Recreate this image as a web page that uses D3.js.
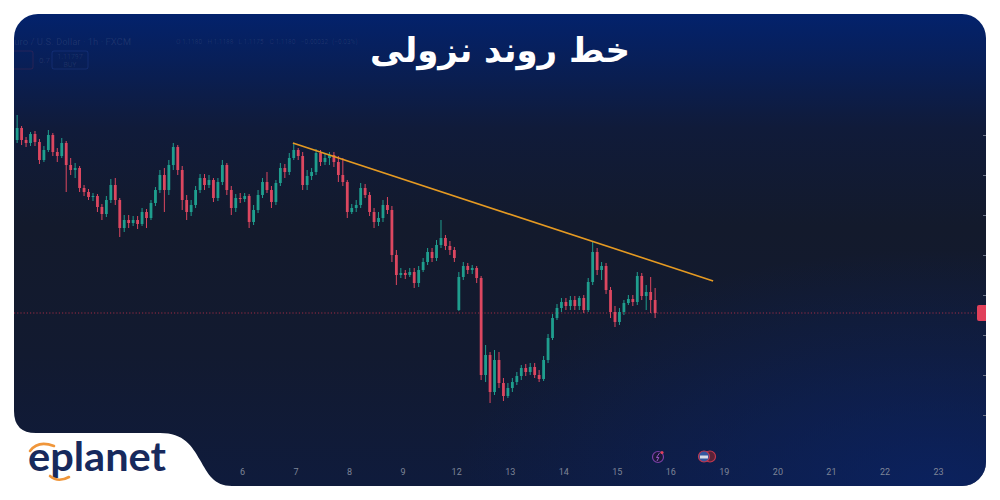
<!DOCTYPE html>
<html><head><meta charset="utf-8">
<script src="https://cdn.jsdelivr.net/npm/d3@7/dist/d3.min.js"></script>
<style>html,body{margin:0;padding:0;background:#fff;}svg{display:block;}</style>
</head><body>
<svg id="chart" width="1000" height="500"></svg>
<script>
// ---------- data ----------
const title = "خط روند نزولی";
const dayLabels = ["6","7","8","9","12","13","14","15","16","19","20","21","22","23"];
const headerItems = ["O 1.1180","H 1.1188","L 1.1175","C 1.1180","−0.00032","(−0.03%)"];
const firstBarDay = -4.2;      // time of first bar, in trading days relative to label "6"
const barsPerDay = 12;         // 2h bars
const open = [1.121875,1.122175,1.121875,1.1218,1.122025,1.121825,1.121375,1.121625,1.122,1.121575,1.121475,1.1218,1.12125,1.121125,1.121175,1.120675,1.120575,1.12045,1.120475,1.1202,1.120025,1.120375,1.12075,1.120375,1.119675,1.119875,1.1198,1.119875,1.119775,1.120075,1.119925,1.1203,1.120625,1.121,1.120625,1.12125,1.1217,1.121125,1.120375,1.120075,1.12025,1.120625,1.120925,1.12075,1.120875,1.120425,1.120825,1.12125,1.120625,1.120175,1.120425,1.1204,1.120475,1.119825,1.120125,1.1205,1.120825,1.120625,1.120325,1.1208,1.121175,1.121075,1.121425,1.121625,1.121475,1.12075,1.120975,1.121075,1.12155,1.121325,1.121425,1.1215,1.121325,1.121,1.120825,1.120075,1.120175,1.12025,1.120675,1.1205,1.120075,1.119825,1.119925,1.12025,1.120125,1.119,1.1185,1.11855,1.1185,1.118575,1.1183,1.118625,1.118825,1.119075,1.118925,1.11925,1.119425,1.119225,1.119125,1.117625,1.11845,1.118725,1.118625,1.118675,1.118425,1.116,1.1165,1.115575,1.116375,1.1158,1.115475,1.115675,1.115825,1.115975,1.116175,1.116075,1.1162,1.116,1.1159,1.116375,1.116925,1.117425,1.117675,1.117825,1.117725,1.117875,1.117725,1.117925,1.117625,1.118325,1.119075,1.118625,1.118725,1.118125,1.117575,1.117325,1.117575,1.1178,1.1179,1.117825,1.118475,1.117975,1.118075,1.117875];
const high = [1.1225,1.122225,1.12195,1.122075,1.1221,1.1219,1.121725,1.122125,1.12205,1.121675,1.121925,1.12185,1.121425,1.1213,1.121225,1.12075,1.12065,1.12055,1.120525,1.120275,1.120475,1.1209,1.120925,1.120425,1.12,1.12,1.119975,1.119975,1.120175,1.12015,1.120375,1.1207,1.121125,1.121175,1.121375,1.1218,1.12175,1.121225,1.1205,1.120375,1.120725,1.121025,1.121025,1.121,1.120925,1.120925,1.121375,1.1213,1.120725,1.120525,1.12055,1.12055,1.120525,1.12025,1.120625,1.120925,1.121075,1.120725,1.120875,1.1213,1.121275,1.12155,1.121775,1.121675,1.121575,1.121125,1.121175,1.12165,1.121625,1.12155,1.121575,1.121575,1.121475,1.121425,1.120875,1.120275,1.120375,1.1208,1.120775,1.120575,1.120175,1.120075,1.120375,1.12045,1.120225,1.119125,1.118675,1.118625,1.118675,1.118675,1.118725,1.118925,1.119175,1.119175,1.119375,1.119875,1.1195,1.11935,1.1192,1.118575,1.118825,1.1188,1.11875,1.118725,1.118475,1.11675,1.116575,1.116625,1.116575,1.115925,1.1158,1.115925,1.116075,1.11625,1.116275,1.1163,1.1163,1.116125,1.116475,1.117025,1.117525,1.117775,1.117925,1.117925,1.117975,1.117975,1.117975,1.118,1.118425,1.119325,1.119175,1.118825,1.1188,1.1182,1.117725,1.117675,1.117875,1.118,1.118,1.118575,1.11855,1.11825,1.11845,1.118175];
const low = [1.1218,1.12175,1.1217,1.121725,1.121725,1.121275,1.121325,1.121575,1.121475,1.121325,1.121425,1.120575,1.121,1.120925,1.120575,1.120475,1.120375,1.12035,1.120075,1.119875,1.11995,1.1203,1.12025,1.11945,1.119575,1.119675,1.119725,1.11965,1.119725,1.119675,1.119875,1.120225,1.12055,1.120075,1.1205,1.121125,1.121,1.120125,1.119875,1.119975,1.120175,1.12055,1.120625,1.120675,1.120325,1.12035,1.12075,1.1205,1.12,1.120075,1.1203,1.120325,1.119675,1.11975,1.12005,1.120425,1.12055,1.120175,1.12025,1.120725,1.120925,1.121,1.121375,1.121375,1.120625,1.120625,1.120875,1.121,1.121225,1.12125,1.12125,1.1212,1.120825,1.120725,1.119925,1.120025,1.120075,1.120175,1.120425,1.119975,1.119675,1.119725,1.119825,1.120025,1.118825,1.11825,1.118425,1.1184,1.11845,1.118175,1.1182,1.118575,1.11875,1.118825,1.11885,1.119175,1.119125,1.119,1.118825,1.1176,1.118375,1.118525,1.118525,1.1183,1.115875,1.115825,1.1153,1.1155,1.115675,1.11535,1.115425,1.115575,1.11575,1.115875,1.115975,1.116,1.115925,1.115825,1.11585,1.1163,1.116875,1.117375,1.117575,1.117625,1.117625,1.117625,1.117625,1.11755,1.117575,1.11825,1.1185,1.118375,1.118025,1.117425,1.1172,1.11725,1.1175,1.11775,1.117725,1.11775,1.117875,1.117625,1.11755,1.117425];
const close = [1.122175,1.121875,1.1218,1.122025,1.121825,1.121375,1.121625,1.122,1.121575,1.121475,1.1218,1.12125,1.121125,1.121175,1.120675,1.120575,1.12045,1.120475,1.1202,1.120025,1.120375,1.12075,1.120375,1.119675,1.119875,1.1198,1.119875,1.119775,1.120075,1.119925,1.1203,1.120625,1.121,1.120625,1.12125,1.1217,1.121125,1.120375,1.120075,1.12025,1.120625,1.120925,1.12075,1.120875,1.120425,1.120825,1.12125,1.120625,1.120175,1.120425,1.1204,1.120475,1.119825,1.120125,1.1205,1.120825,1.120625,1.120325,1.1208,1.121175,1.121075,1.121425,1.121625,1.121475,1.12075,1.120975,1.121075,1.12155,1.121325,1.121425,1.1215,1.121325,1.121,1.120825,1.120075,1.120175,1.12025,1.120675,1.1205,1.120075,1.119825,1.119925,1.12025,1.120125,1.119,1.1185,1.11855,1.1185,1.118575,1.1183,1.118625,1.118825,1.119075,1.118925,1.11925,1.119425,1.119225,1.119125,1.118925,1.11845,1.118725,1.118625,1.118675,1.118425,1.116,1.1165,1.115575,1.116375,1.1158,1.115475,1.115675,1.115825,1.115975,1.116175,1.116075,1.1162,1.116,1.1159,1.116375,1.116925,1.117425,1.117675,1.117825,1.117725,1.117875,1.117725,1.117925,1.117625,1.118325,1.119075,1.118625,1.118725,1.118125,1.117575,1.117325,1.117575,1.1178,1.1179,1.117825,1.118475,1.117975,1.118075,1.117875,1.11755];
const priceTicks = [1.115,1.116,1.117,1.118,1.119,1.120,1.121,1.122];
const lastPrice = 1.11755;
const trendDays = [0.95, 8.8];
const trendPrices = [1.1218, 1.11835];

// ---------- drawing ----------
const svg = d3.select("#chart");
const W = 1000, H = 500;
const card = {x0:14, y0:14, x1:986, y1:486, r:24};
const x = d3.scaleLinear().domain([0, dayLabels.length - 1]).range([242, 938]);
const y = d3.scaleLinear().domain([1.115, 1.122]).range([415, 135]);

const defs = svg.append("defs");
const lg = defs.append("linearGradient").attr("id","bg").attr("x1",0).attr("y1",0).attr("x2",0).attr("y2",1);
[[0,"#03226c"],[0.1,"#081f58"],[0.24,"#101b3a"],[0.45,"#131a2c"],[0.72,"#121a30"],[1,"#0f1b3c"]]
  .forEach(([o,c]) => lg.append("stop").attr("offset",o).attr("stop-color",c));
const rg = defs.append("radialGradient").attr("id","glow").attr("cx",0.95).attr("cy",1).attr("r",0.5);
rg.append("stop").attr("offset",0).attr("stop-color","#0a2366").attr("stop-opacity",0.8);
rg.append("stop").attr("offset",1).attr("stop-color","#0a2366").attr("stop-opacity",0);
defs.append("clipPath").attr("id","cardClip").append("rect")
  .attr("x",card.x0).attr("y",card.y0).attr("width",card.x1-card.x0).attr("height",card.y1-card.y0).attr("rx",card.r);

svg.append("rect").attr("width",W).attr("height",H).attr("fill","#fff");
svg.append("rect").attr("x",card.x0).attr("y",card.y0).attr("width",card.x1-card.x0).attr("height",card.y1-card.y0)
  .attr("rx",card.r).attr("fill","url(#bg)");
svg.append("rect").attr("x",card.x0).attr("y",card.y0).attr("width",card.x1-card.x0).attr("height",card.y1-card.y0)
  .attr("rx",card.r).attr("fill","url(#glow)");

const g = svg.append("g").attr("clip-path","url(#cardClip)");

// faint trading-view header
const hdr = g.append("g").attr("font-family","Roboto, sans-serif").attr("font-size",6.5).attr("fill","#ffffff").attr("fill-opacity",0.09);
hdr.append("text").attr("x",9).attr("y",45).attr("font-size",9.5).text("Euro / U.S. Dollar · 1h · FXCM");
const hx = d3.scalePoint().domain(headerItems).range([176, 332]);
hdr.selectAll("text.ohlc").data(headerItems).join("text").attr("class","ohlc")
  .attr("x",d=>hx(d)).attr("y",44).text(d=>d);
hdr.append("rect").attr("x",6).attr("y",51).attr("width",27).attr("height",18).attr("rx",2).attr("fill","none").attr("stroke","#e0405a").attr("stroke-opacity",0.15);
hdr.append("text").attr("x",39).attr("y",63).attr("font-size",8).text("0.7");
hdr.append("rect").attr("x",52).attr("y",51).attr("width",36).attr("height",18).attr("rx",2).attr("fill","none").attr("stroke","#3a66d8").attr("stroke-opacity",0.2);
hdr.append("text").attr("x",70).attr("y",59).attr("font-size",7).attr("text-anchor","middle").text("1.11797");
hdr.append("text").attr("x",70).attr("y",67).attr("font-size",7).attr("text-anchor","middle").text("BUY");

// last price dotted line
g.append("line").attr("x1",card.x0).attr("x2",978).attr("y1",y(lastPrice)).attr("y2",y(lastPrice))
  .attr("stroke","#d8344f").attr("stroke-opacity",0.7).attr("stroke-width",1).attr("stroke-dasharray","1.2,2");

// candles
const bars = close.map((c,i) => ({t: firstBarDay + i / barsPerDay, o: open[i], h: high[i], l: low[i], c}));
const up = "#1f9e8e", down = "#dc4760";
const cg = g.append("g");
cg.selectAll("line.wick").data(bars).join("line").attr("class","wick")
  .attr("x1",d=>x(d.t)).attr("x2",d=>x(d.t)).attr("y1",d=>y(d.h)).attr("y2",d=>y(d.l))
  .attr("stroke",d=>d.c>=d.o?up:down).attr("stroke-width",1);
cg.selectAll("rect.body").data(bars).join("rect").attr("class","body")
  .attr("x",d=>x(d.t)-1.4).attr("width",2.8)
  .attr("y",d=>y(Math.max(d.o,d.c))).attr("height",d=>Math.max(1,Math.abs(y(d.o)-y(d.c))))
  .attr("fill",d=>d.c>=d.o?up:down);

// trend line
g.append("line").attr("x1",x(trendDays[0])).attr("y1",y(trendPrices[0]))
  .attr("x2",x(trendDays[1])).attr("y2",y(trendPrices[1]))
  .attr("stroke","#e59a22").attr("stroke-width",1.6);

// right price axis (labels are outside the card)
const ay = g.append("g").attr("transform","translate(986,0)").call(d3.axisLeft(y).tickValues(priceTicks).tickSize(3).tickFormat(""));
ay.select(".domain").remove();
ay.selectAll("line").attr("stroke","#6e7688");
g.append("rect").attr("x",977).attr("y",y(lastPrice)-8).attr("width",12).attr("height",16).attr("rx",2).attr("fill","#e0405a");

// x axis
const ax = g.append("g").attr("transform","translate(0,466)")
  .call(d3.axisBottom(x).tickValues(d3.range(dayLabels.length)).tickSize(0).tickFormat(i=>dayLabels[i]));
ax.select(".domain").remove();
ax.selectAll("text").attr("fill","#7e8597").attr("font-size",9).attr("font-family","Roboto, sans-serif");

// event icons
const ic = g.append("g");
ic.append("circle").attr("cx",658).attr("cy",457).attr("r",5.5).attr("fill","#1a1838").attr("stroke","#7a3fa6").attr("stroke-width",1.2);
ic.append("path").attr("d","M659.5,453 L656.5,457.5 L658.8,457.5 L657,461").attr("fill","none").attr("stroke","#9a56c8").attr("stroke-width",1);
ic.append("circle").attr("cx",662).attr("cy",452.5).attr("r",1.6).attr("fill","#e0405a");
ic.append("circle").attr("cx",710).attr("cy",456.5).attr("r",5.5).attr("fill","#5a2238").attr("stroke","#c0384f").attr("stroke-width",1.2);
ic.append("circle").attr("cx",704).attr("cy",456.5).attr("r",5.5).attr("fill","#3357a0").attr("stroke","#c0384f").attr("stroke-width",1.2);
ic.append("rect").attr("x",700).attr("y",455.5).attr("width",8).attr("height",3).attr("fill","#d9dbe6");

// white tab for the logo (bottom-left)
svg.append("path").attr("fill","#fff")
  .attr("d","M0,400 L14,400 L14,411 Q14,433 36,433 L160,433 C184,433 192,446 200,460 C208,474 214,486 232,486 L232,500 L0,500 Z");

// logo
const logo = svg.append("g");
logo.append("text").attr("x",28).attr("y",471).attr("font-family","Lato, 'Open Sans', sans-serif")
  .attr("font-weight",700).attr("font-size",41).attr("letter-spacing",0).attr("fill","#17295c")
  .attr("textLength",138).attr("lengthAdjust","spacingAndGlyphs").text("eplanet");
logo.append("path").attr("d","M30,451 Q38,440 54,446").attr("fill","none").attr("stroke","#f0963a").attr("stroke-width",2.6).attr("stroke-linecap","round");
logo.append("path").attr("d","M50,476 Q58,483 69,477").attr("fill","none").attr("stroke","#f0963a").attr("stroke-width",2.6).attr("stroke-linecap","round");

// title
svg.append("text").attr("x",500).attr("y",62).attr("text-anchor","middle")
  .attr("font-family","'DejaVu Sans', sans-serif").attr("font-weight",700).attr("font-size",34)
  .attr("fill","#ffffff").attr("direction","rtl").text(title);
</script>
</body></html>
